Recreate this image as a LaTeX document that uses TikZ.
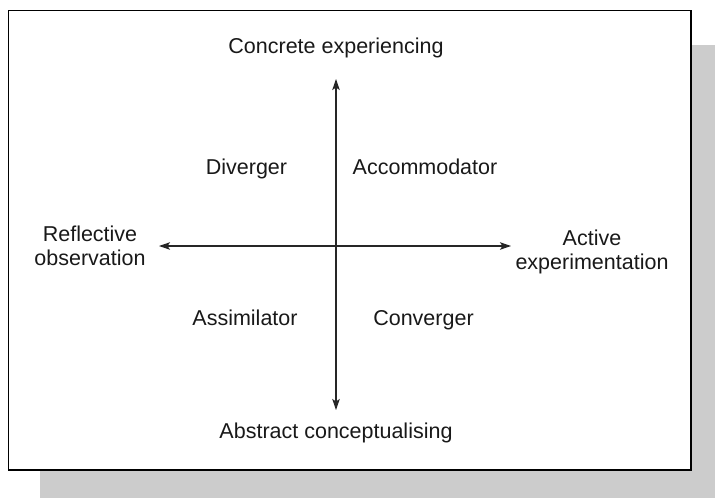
\documentclass[tikz,border=0pt]{standalone}
\usepackage{fontspec}
\setmainfont{Liberation Sans}
\usetikzlibrary{arrows.meta}
\begin{document}
\begin{tikzpicture}[x=1pt,y=-1pt,
  lbl/.style={font=\fontsize{21.5}{24}\selectfont, text=black!90, inner sep=0pt},
  axis/.style={line width=1.1pt, black!85, {Stealth[length=11pt,width=7.5pt,inset=2.5pt]}-{Stealth[length=11pt,width=7.5pt,inset=2.5pt]}}
]
\useasboundingbox (0,0) rectangle (715,498);
\fill[black!20] (40,45) rectangle (715,498);
\draw[line width=1.4pt, fill=white] (8.5,10.5) rectangle (691,470);

\node[lbl, anchor=base] (ce) at (336,53) {Concrete experiencing};
\node[lbl, anchor=base] (ac) at (336,438) {Abstract conceptualising};
\node[lbl, align=center] (ro) at (90,245.5) {Reflective\\observation};
\node[lbl, align=center] (ae) at (592,252) {Active\\experimentation};
\node[lbl, anchor=base] (dv) at (246.5,174) {Diverger};
\node[lbl, anchor=base] (am) at (425,174) {Accommodator};
\node[lbl, anchor=base] (as) at (245,325) {Assimilator};
\node[lbl, anchor=base] (cv) at (423.5,325) {Converger};

\coordinate (top) at (336,79);
\coordinate (bot) at (336,410);
\coordinate (lft) at (159,246);
\coordinate (rgt) at (511,246);
\draw[axis] (top) -- (bot);
\draw[axis] (lft) -- (rgt);
\end{tikzpicture}
\end{document}
